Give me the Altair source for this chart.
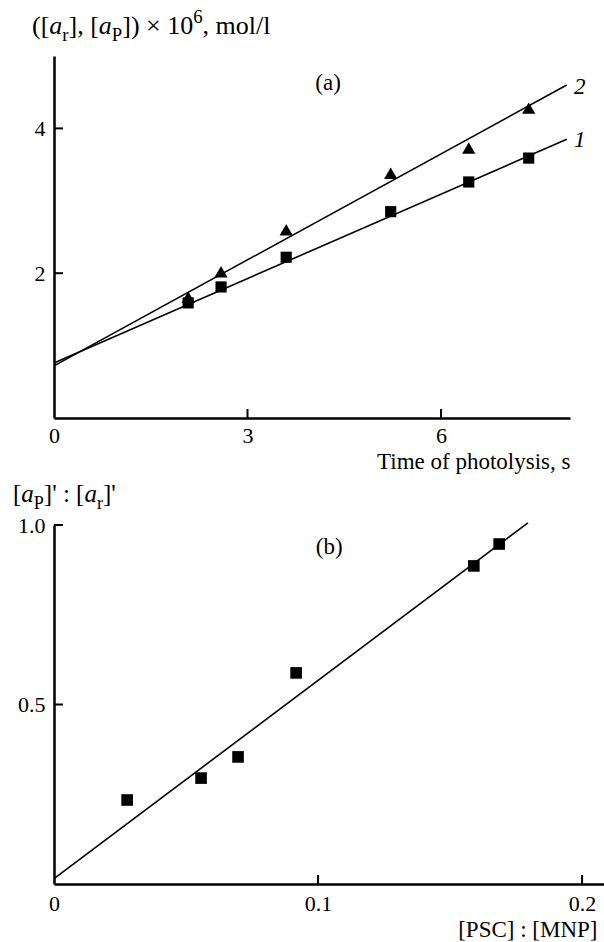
import altair as alt
import pandas as pd

FONT = "Liberation Serif"

# ---------------- Panel (a) data ----------------
time_s = [2.08, 2.59, 3.60, 5.22, 6.43, 7.36]
a_r = [1.59, 1.81, 2.22, 2.85, 3.26, 3.59]      # squares, curve 1
a_P = [1.67, 2.02, 2.60, 3.38, 3.73, 4.28]      # triangles, curve 2
fit1_x = [0.0, 7.95]
fit1_y = [0.76, 3.85]
fit2_x = [0.0, 7.95]
fit2_y = [0.72, 4.60]
a_xticks = [0, 3, 6]
a_yticks = [2, 4]
curve_labels = ["1", "2"]
curve_lab_x = [8.15, 8.15]
curve_lab_y = [3.84, 4.57]

# ---------------- Panel (b) data ----------------
psc_mnp = [0.0277, 0.0557, 0.0697, 0.0917, 0.1590, 0.1686]
ratio = [0.234, 0.295, 0.354, 0.588, 0.886, 0.947]
fitb_x = [0.0, 0.1795]
fitb_y = [0.015, 1.006]
b_xticks = [0, 0.1, 0.2]
b_yticks = [0.5, 1.0]

WA, HA = 516, 362
WB, HB = 550, 359
TICK = 9
LEFT, TOP, BOTTOM = 54, 56, 58

# Times / Liberation Serif advance widths (em)
W = {'(': 0.333, ')': 0.333, '[': 0.333, ']': 0.333, ',': 0.25, ' ': 0.25,
     '×': 0.564, '1': 0.5, '0': 0.5, '6': 0.5, 'm': 0.778, 'o': 0.5, 'l': 0.278,
     '/': 0.278, "'": 0.18, ':': 0.278, 'P': 0.556, 'r': 0.333, 'a': 0.5}

one = pd.DataFrame({"k": [0]})


def title_layers(pieces, x0, y0, F, spread=1.0):
    layers = []
    x = x0
    for txt, style, pos in pieces:
        size = F * 0.72 if pos != "base" else F
        dy = 0.28 * F if pos == "sub" else (-0.42 * F if pos == "sup" else 0)
        w = sum(W[c] for c in txt) * size * spread
        layers.append(
            alt.Chart(one).mark_text(
                text=txt, font=FONT, fontSize=size,
                fontStyle="italic" if style == "i" else "normal",
                align="left", baseline="alphabetic", color="black"
            ).encode(x=alt.value(x), y=alt.value(y0 + dy))
        )
        x += w
    return layers


def anchor(x, y):
    # invisible mark that only fixes the layout bounds
    return alt.Chart(one).mark_rule(color="white", strokeOpacity=0, strokeWidth=0.1).encode(
        x=alt.value(x), x2=alt.value(x + 1), y=alt.value(y))


# ---------------- Panel (a) ----------------
xsa = alt.Scale(domain=[0, 8], nice=False, zero=False)
ysa = alt.Scale(domain=[0, 5], nice=False, zero=False)
axa_x = alt.Axis(values=a_xticks, ticks=False, format="d", labelFlush=False,
                 labelPadding=7, title="Time of photolysis, s", titleX=WA, titleY=50,
                 titleAlign="right", titleBaseline="alphabetic")
axa_y = alt.Axis(values=a_yticks, ticks=False, format="d", labelPadding=9, title="")
XA = alt.X("x:Q", scale=xsa, axis=axa_x)
YA = alt.Y("y:Q", scale=ysa, axis=axa_y)

pts_a = pd.DataFrame({"x": time_s * 2, "y": a_r + a_P,
                      "s": ["1"] * len(time_s) + ["2"] * len(time_s)})
fit_a = pd.DataFrame({"x": fit1_x + fit2_x, "y": fit1_y + fit2_y,
                      "s": ["1", "1", "2", "2"]})

base_a = alt.Chart(fit_a).mark_line(color="black", strokeWidth=1.6).encode(
    x=XA, y=YA, detail="s:N")
sq_a = alt.Chart(pts_a).transform_filter("datum.s == '1'").mark_point(
    shape="square", filled=True, size=125, color="black", opacity=1).encode(x=XA, y=YA)
tri_a = alt.Chart(pts_a).transform_filter("datum.s == '2'").mark_point(
    shape="triangle-up", filled=True, size=175, color="black", opacity=1).encode(x=XA, y=YA)

xt_a = alt.Chart(pd.DataFrame({"x": [v for v in a_xticks if v != 0]})).mark_rule(
    color="black", strokeWidth=2).encode(x=XA, y=alt.value(HA - TICK), y2=alt.value(HA))
yt_a = alt.Chart(pd.DataFrame({"y": a_yticks})).mark_rule(
    color="black", strokeWidth=2).encode(y=YA, x=alt.value(0), x2=alt.value(TICK))

lab_a = alt.Chart(pd.DataFrame({"x": curve_lab_x, "y": curve_lab_y, "t": curve_labels})).mark_text(
    font=FONT, fontSize=23, fontStyle="italic", color="black", align="center",
    baseline="middle").encode(x=XA, y=YA, text="t:N")
panel_a_lab = alt.Chart(pd.DataFrame({"x": [4.25], "y": [4.63], "t": ["(a)"]})).mark_text(
    font=FONT, fontSize=23, color="black", align="center", baseline="middle").encode(
    x=XA, y=YA, text="t:N")

title_a = title_layers(
    [("([", "n", "base"), ("a", "i", "base"), ("r", "n", "sub"), ("], [", "n", "base"),
     ("a", "i", "base"), ("P", "n", "sub"), ("]) × 10", "n", "base"), ("6", "n", "sup"),
     (", mol/l", "n", "base")], -22, -22, 26, spread=1.0)

chart_a = alt.layer(base_a, sq_a, tri_a, xt_a, yt_a, lab_a, panel_a_lab, *title_a,
                    anchor(-LEFT, -TOP)).properties(width=WA, height=HA)

# ---------------- Panel (b) ----------------
xsb = alt.Scale(domain=[0, 0.2083], nice=False, zero=False)
ysb = alt.Scale(domain=[0, 1.0], nice=False, zero=False)
axb_x = alt.Axis(values=b_xticks, ticks=False, labelFlush=False, labelPadding=9,
                 labelExpr="datum.value == 0 ? '0' : format(datum.value, '.1f')",
                 title="[PSC] : [MNP]", titleX=543, titleY=52, titleAlign="right",
                 titleBaseline="alphabetic")
axb_y = alt.Axis(values=b_yticks, ticks=False, format=".1f", labelPadding=9, title="")
XB = alt.X("x:Q", scale=xsb, axis=axb_x)
YB = alt.Y("y:Q", scale=ysb, axis=axb_y)

fit_b = pd.DataFrame({"x": fitb_x, "y": fitb_y})
pts_b = pd.DataFrame({"x": psc_mnp, "y": ratio})

base_b = alt.Chart(fit_b).mark_line(color="black", strokeWidth=1.6).encode(x=XB, y=YB)
sq_b = alt.Chart(pts_b).mark_point(
    shape="square", filled=True, size=135, color="black", opacity=1).encode(x=XB, y=YB)
xt_b = alt.Chart(pd.DataFrame({"x": [v for v in b_xticks if v != 0]})).mark_rule(
    color="black", strokeWidth=2).encode(x=XB, y=alt.value(HB - TICK), y2=alt.value(HB))
yt_b = alt.Chart(pd.DataFrame({"y": b_yticks})).mark_rule(
    color="black", strokeWidth=2).encode(y=YB, x=alt.value(0), x2=alt.value(TICK))
panel_b_lab = alt.Chart(pd.DataFrame({"x": [0.1042], "y": [0.939], "t": ["(b)"]})).mark_text(
    font=FONT, fontSize=23, color="black", align="center", baseline="middle").encode(
    x=XB, y=YB, text="t:N")

title_b = title_layers(
    [("[", "n", "base"), ("a", "i", "base"), ("P", "n", "sub"), ("]' : [", "n", "base"),
     ("a", "i", "base"), ("r", "n", "sub"), ("]'", "n", "base")], -41, -23, 25)

chart_b = alt.layer(base_b, sq_b, xt_b, yt_b, panel_b_lab, *title_b,
                    anchor(-LEFT, HB + BOTTOM - 1)).properties(width=WB, height=HB)

chart = alt.vconcat(chart_a, chart_b, spacing=107, bounds="flush").properties(
    padding=0,
).configure_view(stroke=None).configure_axis(
    domainColor="black", domainWidth=2.5, labelColor="black", labelFont=FONT,
    labelFontSize=22, titleFont=FONT, titleFontSize=23, titleFontWeight="normal",
    titleColor="black", grid=False,
)

chart.save("out.html", embed_options={"renderer": "svg", "actions": False})
